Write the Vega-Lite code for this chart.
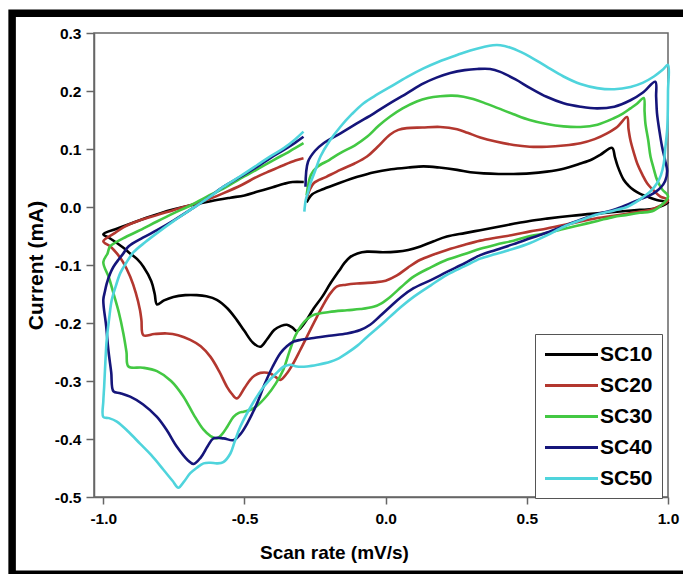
{
"$schema": "https://vega.github.io/schema/vega-lite/v6.json",
"width": 574, "height": 464,
"autosize": {"type": "none"},
"padding": {"left": 94, "top": 33, "right": 15, "bottom": 77},
"background": "white",
"config": {"view": {"stroke": "#666", "strokeWidth": 1.5}, "font": "Liberation Sans"},
"datasets": {"cv": [
{"s":"SC10","x":-0.28,"y":0.008},{"s":"SC10","x":-0.26,"y":0.022},{"s":"SC10","x":-0.22,"y":0.031},{"s":"SC10","x":-0.16,"y":0.042},{"s":"SC10","x":-0.10,"y":0.052},{"s":"SC10","x":-0.04,"y":0.060},{"s":"SC10","x":0.02,"y":0.065},{"s":"SC10","x":0.08,"y":0.068},{"s":"SC10","x":0.134,"y":0.070},{"s":"SC10","x":0.19,"y":0.068},{"s":"SC10","x":0.253,"y":0.064},{"s":"SC10","x":0.30,"y":0.060},{"s":"SC10","x":0.347,"y":0.058},{"s":"SC10","x":0.40,"y":0.057},{"s":"SC10","x":0.453,"y":0.057},{"s":"SC10","x":0.51,"y":0.058},{"s":"SC10","x":0.571,"y":0.061},{"s":"SC10","x":0.63,"y":0.066},{"s":"SC10","x":0.69,"y":0.075},{"s":"SC10","x":0.73,"y":0.082},{"s":"SC10","x":0.76,"y":0.090},{"s":"SC10","x":0.802,"y":0.102},{"s":"SC10","x":0.812,"y":0.086},{"s":"SC10","x":0.822,"y":0.070},{"s":"SC10","x":0.843,"y":0.047},{"s":"SC10","x":0.86,"y":0.037},{"s":"SC10","x":0.879,"y":0.029},{"s":"SC10","x":0.90,"y":0.023},{"s":"SC10","x":0.926,"y":0.018},{"s":"SC10","x":0.96,"y":0.012},{"s":"SC10","x":1.0,"y":0.008},
{"s":"SC10","x":0.95,"y":-0.003},{"s":"SC10","x":0.9,"y":-0.005},{"s":"SC10","x":0.85,"y":-0.007},{"s":"SC10","x":0.80,"y":-0.009},{"s":"SC10","x":0.75,"y":-0.011},{"s":"SC10","x":0.66,"y":-0.015},{"s":"SC10","x":0.571,"y":-0.020},{"s":"SC10","x":0.51,"y":-0.024},{"s":"SC10","x":0.453,"y":-0.029},{"s":"SC10","x":0.39,"y":-0.035},{"s":"SC10","x":0.335,"y":-0.040},{"s":"SC10","x":0.28,"y":-0.045},{"s":"SC10","x":0.217,"y":-0.051},{"s":"SC10","x":0.17,"y":-0.059},{"s":"SC10","x":0.123,"y":-0.068},{"s":"SC10","x":0.08,"y":-0.074},{"s":"SC10","x":0.04,"y":-0.077},{"s":"SC10","x":-0.01,"y":-0.078},{"s":"SC10","x":-0.066,"y":-0.077},{"s":"SC10","x":-0.10,"y":-0.080},{"s":"SC10","x":-0.125,"y":-0.086},{"s":"SC10","x":-0.145,"y":-0.096},{"s":"SC10","x":-0.165,"y":-0.11},{"s":"SC10","x":-0.196,"y":-0.132},{"s":"SC10","x":-0.225,"y":-0.155},{"s":"SC10","x":-0.255,"y":-0.175},{"s":"SC10","x":-0.28,"y":-0.195},{"s":"SC10","x":-0.30,"y":-0.208},{"s":"SC10","x":-0.315,"y":-0.214},{"s":"SC10","x":-0.33,"y":-0.208},{"s":"SC10","x":-0.35,"y":-0.203},{"s":"SC10","x":-0.37,"y":-0.205},{"s":"SC10","x":-0.395,"y":-0.212},{"s":"SC10","x":-0.42,"y":-0.228},{"s":"SC10","x":-0.444,"y":-0.241},{"s":"SC10","x":-0.47,"y":-0.234},{"s":"SC10","x":-0.50,"y":-0.214},{"s":"SC10","x":-0.527,"y":-0.195},{"s":"SC10","x":-0.56,"y":-0.175},{"s":"SC10","x":-0.598,"y":-0.160},{"s":"SC10","x":-0.635,"y":-0.154},{"s":"SC10","x":-0.669,"y":-0.152},{"s":"SC10","x":-0.71,"y":-0.152},{"s":"SC10","x":-0.752,"y":-0.155},{"s":"SC10","x":-0.785,"y":-0.161},{"s":"SC10","x":-0.81,"y":-0.168},{"s":"SC10","x":-0.818,"y":-0.15},{"s":"SC10","x":-0.83,"y":-0.128},{"s":"SC10","x":-0.858,"y":-0.103},{"s":"SC10","x":-0.88,"y":-0.09},{"s":"SC10","x":-0.905,"y":-0.080},{"s":"SC10","x":-0.93,"y":-0.07},{"s":"SC10","x":-0.952,"y":-0.062},{"s":"SC10","x":-0.98,"y":-0.053},{"s":"SC10","x":-1.0,"y":-0.047},
{"s":"SC10","x":-0.95,"y":-0.037},{"s":"SC10","x":-0.9,"y":-0.028},{"s":"SC10","x":-0.85,"y":-0.019},{"s":"SC10","x":-0.8,"y":-0.011},{"s":"SC10","x":-0.75,"y":-0.004},{"s":"SC10","x":-0.69,"y":0.003},{"s":"SC10","x":-0.62,"y":0.010},{"s":"SC10","x":-0.55,"y":0.016},{"s":"SC10","x":-0.5,"y":0.020},{"s":"SC10","x":-0.45,"y":0.027},{"s":"SC10","x":-0.4,"y":0.034},{"s":"SC10","x":-0.36,"y":0.040},{"s":"SC10","x":-0.33,"y":0.043},{"s":"SC10","x":-0.29,"y":0.043},

{"s":"SC20","x":-0.28,"y":0.015},{"s":"SC20","x":-0.255,"y":0.041},{"s":"SC20","x":-0.21,"y":0.052},{"s":"SC20","x":-0.161,"y":0.064},{"s":"SC20","x":-0.11,"y":0.075},{"s":"SC20","x":-0.066,"y":0.087},{"s":"SC20","x":-0.03,"y":0.103},{"s":"SC20","x":0.016,"y":0.125},{"s":"SC20","x":0.045,"y":0.133},{"s":"SC20","x":0.075,"y":0.136},{"s":"SC20","x":0.13,"y":0.137},{"s":"SC20","x":0.193,"y":0.138},{"s":"SC20","x":0.253,"y":0.134},{"s":"SC20","x":0.29,"y":0.128},{"s":"SC20","x":0.335,"y":0.120},{"s":"SC20","x":0.39,"y":0.113},{"s":"SC20","x":0.453,"y":0.107},{"s":"SC20","x":0.51,"y":0.104},{"s":"SC20","x":0.571,"y":0.104},{"s":"SC20","x":0.63,"y":0.106},{"s":"SC20","x":0.69,"y":0.110},{"s":"SC20","x":0.74,"y":0.117},{"s":"SC20","x":0.784,"y":0.127},{"s":"SC20","x":0.82,"y":0.138},{"s":"SC20","x":0.855,"y":0.155},{"s":"SC20","x":0.86,"y":0.135},{"s":"SC20","x":0.867,"y":0.115},{"s":"SC20","x":0.878,"y":0.095},{"s":"SC20","x":0.891,"y":0.075},{"s":"SC20","x":0.91,"y":0.055},{"s":"SC20","x":0.926,"y":0.041},{"s":"SC20","x":0.95,"y":0.028},{"s":"SC20","x":0.973,"y":0.018},{"s":"SC20","x":1.0,"y":0.012},
{"s":"SC20","x":0.95,"y":-0.003},{"s":"SC20","x":0.9,"y":-0.008},{"s":"SC20","x":0.85,"y":-0.012},{"s":"SC20","x":0.808,"y":-0.015},{"s":"SC20","x":0.75,"y":-0.019},{"s":"SC20","x":0.69,"y":-0.025},{"s":"SC20","x":0.63,"y":-0.031},{"s":"SC20","x":0.571,"y":-0.037},{"s":"SC20","x":0.512,"y":-0.042},{"s":"SC20","x":0.453,"y":-0.048},{"s":"SC20","x":0.39,"y":-0.053},{"s":"SC20","x":0.335,"y":-0.058},{"s":"SC20","x":0.28,"y":-0.065},{"s":"SC20","x":0.217,"y":-0.074},{"s":"SC20","x":0.17,"y":-0.082},{"s":"SC20","x":0.123,"y":-0.091},{"s":"SC20","x":0.08,"y":-0.104},{"s":"SC20","x":0.04,"y":-0.118},{"s":"SC20","x":0.0,"y":-0.127},{"s":"SC20","x":-0.04,"y":-0.130},{"s":"SC20","x":-0.102,"y":-0.132},{"s":"SC20","x":-0.14,"y":-0.134},{"s":"SC20","x":-0.172,"y":-0.137},{"s":"SC20","x":-0.196,"y":-0.149},{"s":"SC20","x":-0.22,"y":-0.168},{"s":"SC20","x":-0.243,"y":-0.189},{"s":"SC20","x":-0.27,"y":-0.215},{"s":"SC20","x":-0.303,"y":-0.247},{"s":"SC20","x":-0.33,"y":-0.272},{"s":"SC20","x":-0.35,"y":-0.287},{"s":"SC20","x":-0.373,"y":-0.298},{"s":"SC20","x":-0.39,"y":-0.293},{"s":"SC20","x":-0.409,"y":-0.287},{"s":"SC20","x":-0.444,"y":-0.286},{"s":"SC20","x":-0.465,"y":-0.291},{"s":"SC20","x":-0.48,"y":-0.298},{"s":"SC20","x":-0.50,"y":-0.312},{"s":"SC20","x":-0.527,"y":-0.330},{"s":"SC20","x":-0.545,"y":-0.322},{"s":"SC20","x":-0.562,"y":-0.310},{"s":"SC20","x":-0.59,"y":-0.283},{"s":"SC20","x":-0.621,"y":-0.258},{"s":"SC20","x":-0.655,"y":-0.240},{"s":"SC20","x":-0.692,"y":-0.229},{"s":"SC20","x":-0.735,"y":-0.221},{"s":"SC20","x":-0.775,"y":-0.218},{"s":"SC20","x":-0.82,"y":-0.219},{"s":"SC20","x":-0.858,"y":-0.221},{"s":"SC20","x":-0.865,"y":-0.195},{"s":"SC20","x":-0.87,"y":-0.178},{"s":"SC20","x":-0.885,"y":-0.148},{"s":"SC20","x":-0.905,"y":-0.120},{"s":"SC20","x":-0.93,"y":-0.095},{"s":"SC20","x":-0.952,"y":-0.080},{"s":"SC20","x":-0.975,"y":-0.068},{"s":"SC20","x":-1.0,"y":-0.059},
{"s":"SC20","x":-0.96,"y":-0.045},{"s":"SC20","x":-0.929,"y":-0.035},{"s":"SC20","x":-0.87,"y":-0.023},{"s":"SC20","x":-0.81,"y":-0.014},{"s":"SC20","x":-0.75,"y":-0.005},{"s":"SC20","x":-0.692,"y":0.003},{"s":"SC20","x":-0.63,"y":0.013},{"s":"SC20","x":-0.574,"y":0.024},{"s":"SC20","x":-0.51,"y":0.038},{"s":"SC20","x":-0.456,"y":0.052},{"s":"SC20","x":-0.41,"y":0.062},{"s":"SC20","x":-0.362,"y":0.072},{"s":"SC20","x":-0.32,"y":0.080},{"s":"SC20","x":-0.291,"y":0.084},

{"s":"SC30","x":-0.28,"y":0.02},{"s":"SC30","x":-0.265,"y":0.055},{"s":"SC30","x":-0.243,"y":0.069},{"s":"SC30","x":-0.2,"y":0.081},{"s":"SC30","x":-0.161,"y":0.093},{"s":"SC30","x":-0.11,"y":0.106},{"s":"SC30","x":-0.066,"y":0.121},{"s":"SC30","x":-0.025,"y":0.140},{"s":"SC30","x":0.016,"y":0.156},{"s":"SC30","x":0.06,"y":0.170},{"s":"SC30","x":0.11,"y":0.182},{"s":"SC30","x":0.15,"y":0.188},{"s":"SC30","x":0.193,"y":0.191},{"s":"SC30","x":0.235,"y":0.192},{"s":"SC30","x":0.276,"y":0.190},{"s":"SC30","x":0.31,"y":0.186},{"s":"SC30","x":0.347,"y":0.180},{"s":"SC30","x":0.40,"y":0.170},{"s":"SC30","x":0.453,"y":0.160},{"s":"SC30","x":0.51,"y":0.150},{"s":"SC30","x":0.571,"y":0.143},{"s":"SC30","x":0.63,"y":0.139},{"s":"SC30","x":0.69,"y":0.138},{"s":"SC30","x":0.75,"y":0.142},{"s":"SC30","x":0.808,"y":0.153},{"s":"SC30","x":0.84,"y":0.161},{"s":"SC30","x":0.867,"y":0.170},{"s":"SC30","x":0.89,"y":0.178},{"s":"SC30","x":0.914,"y":0.188},{"s":"SC30","x":0.917,"y":0.165},{"s":"SC30","x":0.92,"y":0.144},{"s":"SC30","x":0.93,"y":0.115},{"s":"SC30","x":0.938,"y":0.087},{"s":"SC30","x":0.95,"y":0.065},{"s":"SC30","x":0.961,"y":0.047},{"s":"SC30","x":0.98,"y":0.030},{"s":"SC30","x":1.0,"y":0.018},
{"s":"SC30","x":0.95,"y":-0.006},{"s":"SC30","x":0.9,"y":-0.010},{"s":"SC30","x":0.85,"y":-0.014},{"s":"SC30","x":0.808,"y":-0.017},{"s":"SC30","x":0.75,"y":-0.024},{"s":"SC30","x":0.69,"y":-0.031},{"s":"SC30","x":0.63,"y":-0.038},{"s":"SC30","x":0.571,"y":-0.045},{"s":"SC30","x":0.512,"y":-0.050},{"s":"SC30","x":0.453,"y":-0.058},{"s":"SC30","x":0.39,"y":-0.065},{"s":"SC30","x":0.335,"y":-0.072},{"s":"SC30","x":0.28,"y":-0.081},{"s":"SC30","x":0.217,"y":-0.091},{"s":"SC30","x":0.16,"y":-0.104},{"s":"SC30","x":0.099,"y":-0.120},{"s":"SC30","x":0.055,"y":-0.138},{"s":"SC30","x":0.016,"y":-0.155},{"s":"SC30","x":-0.015,"y":-0.166},{"s":"SC30","x":-0.043,"y":-0.172},{"s":"SC30","x":-0.09,"y":-0.176},{"s":"SC30","x":-0.137,"y":-0.178},{"s":"SC30","x":-0.2,"y":-0.181},{"s":"SC30","x":-0.255,"y":-0.186},{"s":"SC30","x":-0.28,"y":-0.194},{"s":"SC30","x":-0.30,"y":-0.205},{"s":"SC30","x":-0.32,"y":-0.222},{"s":"SC30","x":-0.34,"y":-0.248},{"s":"SC30","x":-0.362,"y":-0.280},{"s":"SC30","x":-0.39,"y":-0.305},{"s":"SC30","x":-0.42,"y":-0.325},{"s":"SC30","x":-0.456,"y":-0.343},{"s":"SC30","x":-0.48,"y":-0.350},{"s":"SC30","x":-0.503,"y":-0.353},{"s":"SC30","x":-0.52,"y":-0.355},{"s":"SC30","x":-0.539,"y":-0.362},{"s":"SC30","x":-0.56,"y":-0.378},{"s":"SC30","x":-0.58,"y":-0.392},{"s":"SC30","x":-0.598,"y":-0.399},{"s":"SC30","x":-0.62,"y":-0.395},{"s":"SC30","x":-0.645,"y":-0.384},{"s":"SC30","x":-0.68,"y":-0.358},{"s":"SC30","x":-0.716,"y":-0.327},{"s":"SC30","x":-0.76,"y":-0.300},{"s":"SC30","x":-0.81,"y":-0.283},{"s":"SC30","x":-0.86,"y":-0.277},{"s":"SC30","x":-0.911,"y":-0.275},{"s":"SC30","x":-0.918,"y":-0.250},{"s":"SC30","x":-0.929,"y":-0.218},{"s":"SC30","x":-0.945,"y":-0.182},{"s":"SC30","x":-0.964,"y":-0.149},{"s":"SC30","x":-0.98,"y":-0.122},{"s":"SC30","x":-1.0,"y":-0.095},
{"s":"SC30","x":-0.985,"y":-0.080},{"s":"SC30","x":-0.976,"y":-0.068},{"s":"SC30","x":-0.93,"y":-0.054},{"s":"SC30","x":-0.87,"y":-0.040},{"s":"SC30","x":-0.81,"y":-0.025},{"s":"SC30","x":-0.752,"y":-0.011},{"s":"SC30","x":-0.69,"y":0.003},{"s":"SC30","x":-0.633,"y":0.018},{"s":"SC30","x":-0.57,"y":0.033},{"s":"SC30","x":-0.515,"y":0.049},{"s":"SC30","x":-0.455,"y":0.065},{"s":"SC30","x":-0.397,"y":0.081},{"s":"SC30","x":-0.34,"y":0.096},{"s":"SC30","x":-0.291,"y":0.110},

{"s":"SC40","x":-0.284,"y":0.035},{"s":"SC40","x":-0.275,"y":0.078},{"s":"SC40","x":-0.25,"y":0.097},{"s":"SC40","x":-0.22,"y":0.110},{"s":"SC40","x":-0.16,"y":0.127},{"s":"SC40","x":-0.102,"y":0.144},{"s":"SC40","x":-0.04,"y":0.162},{"s":"SC40","x":0.016,"y":0.179},{"s":"SC40","x":0.075,"y":0.196},{"s":"SC40","x":0.134,"y":0.213},{"s":"SC40","x":0.18,"y":0.223},{"s":"SC40","x":0.229,"y":0.231},{"s":"SC40","x":0.28,"y":0.236},{"s":"SC40","x":0.324,"y":0.238},{"s":"SC40","x":0.37,"y":0.238},{"s":"SC40","x":0.406,"y":0.233},{"s":"SC40","x":0.46,"y":0.220},{"s":"SC40","x":0.512,"y":0.205},{"s":"SC40","x":0.57,"y":0.190},{"s":"SC40","x":0.63,"y":0.179},{"s":"SC40","x":0.69,"y":0.173},{"s":"SC40","x":0.749,"y":0.170},{"s":"SC40","x":0.81,"y":0.173},{"s":"SC40","x":0.867,"y":0.184},{"s":"SC40","x":0.91,"y":0.197},{"s":"SC40","x":0.955,"y":0.216},{"s":"SC40","x":0.958,"y":0.19},{"s":"SC40","x":0.961,"y":0.162},{"s":"SC40","x":0.97,"y":0.13},{"s":"SC40","x":0.979,"y":0.104},{"s":"SC40","x":0.99,"y":0.08},{"s":"SC40","x":0.997,"y":0.062},{"s":"SC40","x":0.99,"y":0.045},{"s":"SC40","x":0.973,"y":0.033},{"s":"SC40","x":0.95,"y":0.024},{"s":"SC40","x":0.926,"y":0.018},{"s":"SC40","x":0.9,"y":0.013},{"s":"SC40","x":0.87,"y":0.007},{"s":"SC40","x":0.84,"y":0.001},{"s":"SC40","x":0.80,"y":-0.006},{"s":"SC40","x":0.749,"y":-0.012},{"s":"SC40","x":0.69,"y":-0.022},{"s":"SC40","x":0.63,"y":-0.033},{"s":"SC40","x":0.571,"y":-0.044},{"s":"SC40","x":0.512,"y":-0.054},{"s":"SC40","x":0.453,"y":-0.064},{"s":"SC40","x":0.39,"y":-0.074},{"s":"SC40","x":0.335,"y":-0.083},{"s":"SC40","x":0.28,"y":-0.097},{"s":"SC40","x":0.217,"y":-0.112},{"s":"SC40","x":0.16,"y":-0.126},{"s":"SC40","x":0.099,"y":-0.140},{"s":"SC40","x":0.055,"y":-0.155},{"s":"SC40","x":0.016,"y":-0.172},{"s":"SC40","x":-0.02,"y":-0.188},{"s":"SC40","x":-0.055,"y":-0.203},{"s":"SC40","x":-0.09,"y":-0.212},{"s":"SC40","x":-0.137,"y":-0.218},{"s":"SC40","x":-0.2,"y":-0.222},{"s":"SC40","x":-0.255,"y":-0.226},{"s":"SC40","x":-0.30,"y":-0.229},{"s":"SC40","x":-0.326,"y":-0.232},{"s":"SC40","x":-0.35,"y":-0.240},{"s":"SC40","x":-0.373,"y":-0.252},{"s":"SC40","x":-0.40,"y":-0.275},{"s":"SC40","x":-0.43,"y":-0.307},{"s":"SC40","x":-0.456,"y":-0.339},{"s":"SC40","x":-0.49,"y":-0.373},{"s":"SC40","x":-0.515,"y":-0.392},{"s":"SC40","x":-0.539,"y":-0.402},{"s":"SC40","x":-0.574,"y":-0.399},{"s":"SC40","x":-0.61,"y":-0.399},{"s":"SC40","x":-0.63,"y":-0.412},{"s":"SC40","x":-0.655,"y":-0.432},{"s":"SC40","x":-0.68,"y":-0.443},{"s":"SC40","x":-0.70,"y":-0.437},{"s":"SC40","x":-0.74,"y":-0.413},{"s":"SC40","x":-0.775,"y":-0.385},{"s":"SC40","x":-0.81,"y":-0.362},{"s":"SC40","x":-0.86,"y":-0.340},{"s":"SC40","x":-0.905,"y":-0.327},{"s":"SC40","x":-0.94,"y":-0.321},{"s":"SC40","x":-0.964,"y":-0.318},{"s":"SC40","x":-0.972,"y":-0.285},{"s":"SC40","x":-0.982,"y":-0.247},{"s":"SC40","x":-0.99,"y":-0.205},{"s":"SC40","x":-1.0,"y":-0.160},
{"s":"SC40","x":-0.994,"y":-0.145},{"s":"SC40","x":-0.988,"y":-0.132},{"s":"SC40","x":-0.976,"y":-0.115},{"s":"SC40","x":-0.964,"y":-0.103},{"s":"SC40","x":-0.945,"y":-0.090},{"s":"SC40","x":-0.929,"y":-0.080},{"s":"SC40","x":-0.911,"y":-0.068},{"s":"SC40","x":-0.86,"y":-0.053},{"s":"SC40","x":-0.81,"y":-0.040},{"s":"SC40","x":-0.75,"y":-0.023},{"s":"SC40","x":-0.692,"y":-0.005},{"s":"SC40","x":-0.63,"y":0.015},{"s":"SC40","x":-0.574,"y":0.035},{"s":"SC40","x":-0.515,"y":0.052},{"s":"SC40","x":-0.456,"y":0.069},{"s":"SC40","x":-0.41,"y":0.084},{"s":"SC40","x":-0.362,"y":0.098},{"s":"SC40","x":-0.32,"y":0.111},{"s":"SC40","x":-0.291,"y":0.121},

{"s":"SC50","x":-0.288,"y":-0.008},{"s":"SC50","x":-0.283,"y":0.012},{"s":"SC50","x":-0.275,"y":0.025},{"s":"SC50","x":-0.267,"y":0.040},{"s":"SC50","x":-0.25,"y":0.062},{"s":"SC50","x":-0.231,"y":0.087},{"s":"SC50","x":-0.2,"y":0.113},{"s":"SC50","x":-0.161,"y":0.138},{"s":"SC50","x":-0.12,"y":0.160},{"s":"SC50","x":-0.078,"y":0.179},{"s":"SC50","x":-0.03,"y":0.194},{"s":"SC50","x":0.016,"y":0.207},{"s":"SC50","x":0.075,"y":0.224},{"s":"SC50","x":0.134,"y":0.239},{"s":"SC50","x":0.19,"y":0.251},{"s":"SC50","x":0.253,"y":0.262},{"s":"SC50","x":0.30,"y":0.270},{"s":"SC50","x":0.347,"y":0.276},{"s":"SC50","x":0.38,"y":0.279},{"s":"SC50","x":0.406,"y":0.279},{"s":"SC50","x":0.44,"y":0.275},{"s":"SC50","x":0.48,"y":0.267},{"s":"SC50","x":0.512,"y":0.259},{"s":"SC50","x":0.57,"y":0.242},{"s":"SC50","x":0.63,"y":0.225},{"s":"SC50","x":0.69,"y":0.212},{"s":"SC50","x":0.749,"y":0.205},{"s":"SC50","x":0.81,"y":0.203},{"s":"SC50","x":0.867,"y":0.207},{"s":"SC50","x":0.91,"y":0.214},{"s":"SC50","x":0.95,"y":0.225},{"s":"SC50","x":0.98,"y":0.236},{"s":"SC50","x":1.0,"y":0.245},{"s":"SC50","x":1.0,"y":0.2},{"s":"SC50","x":0.999,"y":0.16},{"s":"SC50","x":0.997,"y":0.133},{"s":"SC50","x":0.99,"y":0.1},{"s":"SC50","x":0.985,"y":0.075},{"s":"SC50","x":0.975,"y":0.055},{"s":"SC50","x":0.961,"y":0.041},{"s":"SC50","x":0.94,"y":0.028},{"s":"SC50","x":0.914,"y":0.018},{"s":"SC50","x":0.885,"y":0.008},{"s":"SC50","x":0.855,"y":0.0},{"s":"SC50","x":0.81,"y":-0.006},{"s":"SC50","x":0.749,"y":-0.013},{"s":"SC50","x":0.69,"y":-0.023},{"s":"SC50","x":0.631,"y":-0.034},{"s":"SC50","x":0.571,"y":-0.049},{"s":"SC50","x":0.512,"y":-0.062},{"s":"SC50","x":0.453,"y":-0.072},{"s":"SC50","x":0.39,"y":-0.081},{"s":"SC50","x":0.335,"y":-0.089},{"s":"SC50","x":0.28,"y":-0.102},{"s":"SC50","x":0.217,"y":-0.117},{"s":"SC50","x":0.16,"y":-0.135},{"s":"SC50","x":0.099,"y":-0.155},{"s":"SC50","x":0.055,"y":-0.172},{"s":"SC50","x":0.016,"y":-0.189},{"s":"SC50","x":-0.025,"y":-0.207},{"s":"SC50","x":-0.066,"y":-0.224},{"s":"SC50","x":-0.10,"y":-0.239},{"s":"SC50","x":-0.137,"y":-0.252},{"s":"SC50","x":-0.17,"y":-0.262},{"s":"SC50","x":-0.196,"y":-0.267},{"s":"SC50","x":-0.24,"y":-0.272},{"s":"SC50","x":-0.279,"y":-0.275},{"s":"SC50","x":-0.315,"y":-0.275},{"s":"SC50","x":-0.338,"y":-0.272},{"s":"SC50","x":-0.36,"y":-0.275},{"s":"SC50","x":-0.39,"y":-0.288},{"s":"SC50","x":-0.432,"y":-0.310},{"s":"SC50","x":-0.47,"y":-0.338},{"s":"SC50","x":-0.515,"y":-0.379},{"s":"SC50","x":-0.535,"y":-0.405},{"s":"SC50","x":-0.55,"y":-0.425},{"s":"SC50","x":-0.575,"y":-0.440},{"s":"SC50","x":-0.598,"y":-0.442},{"s":"SC50","x":-0.62,"y":-0.441},{"s":"SC50","x":-0.645,"y":-0.442},{"s":"SC50","x":-0.67,"y":-0.450},{"s":"SC50","x":-0.692,"y":-0.459},{"s":"SC50","x":-0.715,"y":-0.474},{"s":"SC50","x":-0.734,"y":-0.484},{"s":"SC50","x":-0.755,"y":-0.472},{"s":"SC50","x":-0.787,"y":-0.453},{"s":"SC50","x":-0.83,"y":-0.428},{"s":"SC50","x":-0.87,"y":-0.408},{"s":"SC50","x":-0.91,"y":-0.388},{"s":"SC50","x":-0.952,"y":-0.370},{"s":"SC50","x":-0.98,"y":-0.364},{"s":"SC50","x":-1.0,"y":-0.362},
{"s":"SC50","x":-1.0,"y":-0.335},{"s":"SC50","x":-0.997,"y":-0.31},{"s":"SC50","x":-0.993,"y":-0.27},{"s":"SC50","x":-0.988,"y":-0.229},{"s":"SC50","x":-0.98,"y":-0.195},{"s":"SC50","x":-0.97,"y":-0.160},{"s":"SC50","x":-0.955,"y":-0.135},{"s":"SC50","x":-0.94,"y":-0.114},{"s":"SC50","x":-0.92,"y":-0.097},{"s":"SC50","x":-0.893,"y":-0.078},{"s":"SC50","x":-0.85,"y":-0.060},{"s":"SC50","x":-0.81,"y":-0.045},{"s":"SC50","x":-0.75,"y":-0.024},{"s":"SC50","x":-0.692,"y":-0.005},{"s":"SC50","x":-0.63,"y":0.015},{"s":"SC50","x":-0.574,"y":0.035},{"s":"SC50","x":-0.515,"y":0.053},{"s":"SC50","x":-0.456,"y":0.072},{"s":"SC50","x":-0.41,"y":0.087},{"s":"SC50","x":-0.362,"y":0.101},{"s":"SC50","x":-0.32,"y":0.117},{"s":"SC50","x":-0.291,"y":0.130}
]},
"layer": [
{
"data": {"name": "cv"},
"mark": {"type": "line", "strokeWidth": 2.6, "strokeJoin": "round", "interpolate": "catmull-rom"},
"encoding": {
"x": {"field": "x", "type": "quantitative", "title": "Scan rate (mV/s)",
 "scale": {"domain": [-1.033, 1.0], "nice": false, "zero": false},
 "axis": {"values": [-1, -0.5, 0, 0.5, 1], "labelExpr": "datum.value < 0 ? '-' + format(-datum.value, '.1f') : format(datum.value, '.1f')", "labelFlush": false, "grid": false,
  "domainColor": "#666", "domainWidth": 1.5, "tickColor": "#666", "tickWidth": 1.5, "tickSize": 7,
  "labelFont": "Liberation Sans", "labelFontSize": 15.5, "labelFontWeight": "bold", "labelColor": "black", "labelPadding": 7,
  "titleFont": "Liberation Sans", "titleFontSize": 19, "titleFontWeight": "bold", "titleColor": "black", "titlePadding": 17, "titleX": 240}},
"y": {"field": "y", "type": "quantitative", "title": "Current (mA)",
 "scale": {"domain": [-0.5, 0.3], "nice": false, "zero": false},
 "axis": {"values": [-0.5, -0.4, -0.3, -0.2, -0.1, 0, 0.1, 0.2, 0.3], "labelExpr": "datum.value < 0 ? '-' + format(-datum.value, '.1f') : format(datum.value, '.1f')", "labelFlush": false, "grid": false,
  "domainColor": "#666", "domainWidth": 1.5, "tickColor": "#666", "tickWidth": 1.5, "tickSize": 8,
  "labelFont": "Liberation Sans", "labelFontSize": 15.5, "labelFontWeight": "bold", "labelColor": "black", "labelPadding": 5,
  "titleFont": "Liberation Sans", "titleFontSize": 21, "titleFontWeight": "bold", "titleColor": "black", "titlePadding": 8}},
"color": {"field": "s", "type": "nominal",
 "scale": {"domain": ["SC10", "SC20", "SC30", "SC40", "SC50"], "range": ["#000000", "#b3372f", "#43c843", "#15157a", "#4fd4dc"]},
 "legend": {"orient": "none", "legendX": 441, "legendY": 301, "title": null, "strokeColor": "#555", "fillColor": "white", "padding": 9,
  "symbolType": "M-2.65,0H2.65", "symbolSize": 400, "symbolStrokeWidth": 3, "symbolOffset": 16, "labelFont": "Liberation Sans", "labelFontSize": 21, "labelFontWeight": "bold", "labelColor": "black", "labelOffset": 17, "rowPadding": 9}},
"order": {"value": null}
}
},
{
"data": {"values": [{}]},
"mark": {"type": "rect", "fillOpacity": 0, "stroke": "black", "strokeWidth": 7.5},
"encoding": {
"x": {"datum": -1.323, "type": "quantitative"},
"x2": {"datum": 1.08},
"y": {"datum": 0.334, "type": "quantitative"},
"y2": {"datum": -0.633}
}
}
]
}
